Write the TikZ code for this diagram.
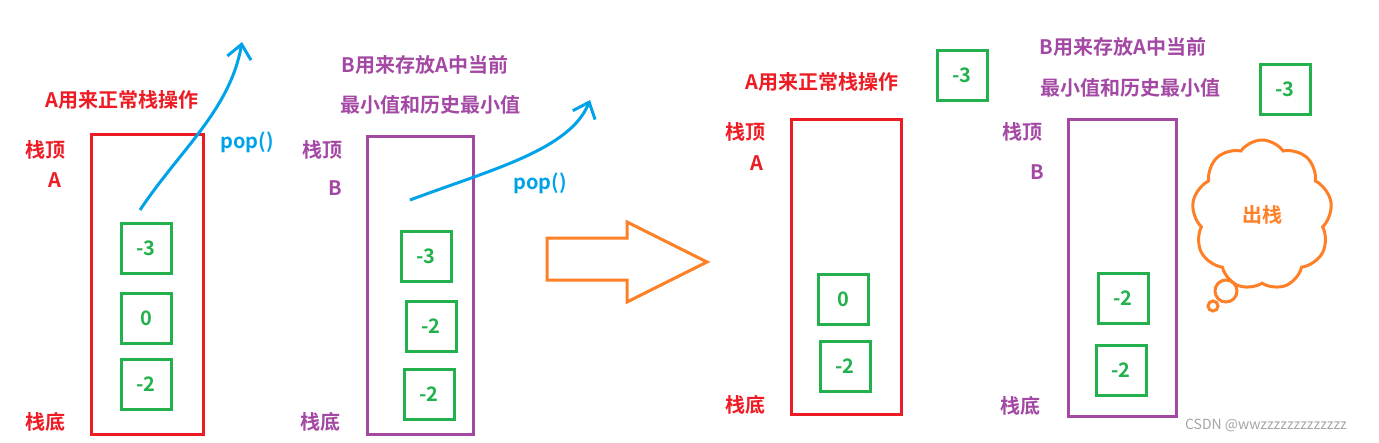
\documentclass[tikz,border=0pt]{standalone}
\usepackage{fontspec}
\setmainfont{Noto Sans CJK SC}[BoldFont={* Bold}]
\usetikzlibrary{arrows.meta,shapes.symbols}
\definecolor{sred}{RGB}{237,28,36}
\definecolor{spur}{RGB}{163,73,164}
\definecolor{sgrn}{RGB}{34,177,76}
\definecolor{sblu}{RGB}{0,162,232}
\definecolor{sorg}{RGB}{255,127,39}
\tikzset{
  stackbox/.style={draw,line width=3pt,inner sep=0,anchor=north west},
  cell/.style={draw=sgrn,line width=3pt,minimum width=50pt,minimum height=50pt,text=sgrn,font=\bfseries\fontsize{20}{22}\selectfont},
  lbl/.style={font=\bfseries\fontsize{20}{22}\selectfont},
  popline/.style={sblu,line width=3pt,-{Straight Barb[length=14pt,width=24pt]}}
}
\begin{document}
\begin{tikzpicture}[x=1pt,y=-1pt]
\useasboundingbox (0,0) rectangle (1379,442);
% left: stack A
\node[stackbox,draw=sred,minimum width=112pt,minimum height=300pt] (sa) at (90,133) {};
\node[lbl,text=sred] (sadesc) at (122,100) {A用来正常栈操作};
\node[lbl,text=sred] (satop) at (45,150) {栈顶};
\node[lbl,text=sred] (saname) at (55,180) {A};
\node[lbl,text=sred] (sabot) at (45,422) {栈底};
\node[cell] (a1) at (146,248) {-3};
\node[cell] (a2) at (146,318) {0};
\node[cell] (a3) at (146,384) {-2};
\coordinate (apop0) at (140,210);
\coordinate (apop1) at (242,42);
\draw[popline] (apop0) .. controls (180,150) and (230,110) .. (apop1);
\node[lbl,text=sblu] (apop) at (247,142) {pop()};
% left: stack B
\node[stackbox,draw=spur,minimum width=106pt,minimum height=298pt] (sb) at (366,135) {};
\node[lbl,text=spur] (sbdesc1) at (425,65) {B用来存放A中当前};
\node[lbl,text=spur] (sbdesc2) at (430,105) {最小值和历史最小值};
\node[lbl,text=spur] (sbtop) at (322,150) {栈顶};
\node[lbl,text=spur] (sbname) at (335,188) {B};
\node[lbl,text=spur] (sbbot) at (320,422) {栈底};
\node[cell] (b1) at (426,256) {-3};
\node[cell] (b2) at (431,326) {-2};
\node[cell] (b3) at (429,394) {-2};
\coordinate (bpop0) at (410,200);
\coordinate (bpop1) at (590,100);
\draw[popline] (bpop0) .. controls (490,170) and (570,150) .. (bpop1);
\node[lbl,text=sblu] (bpop) at (540,183) {pop()};
% big arrow
\draw[sorg,line width=3pt,line join=miter] (547,238) -- (627,238) -- (627,222) -- (707,262) -- (627,302) -- (627,280) -- (547,280) -- cycle;
% right: stack A
\node[stackbox,draw=sred,minimum width=110pt,minimum height=295pt] (ra) at (790,118) {};
\node[lbl,text=sred] (radesc) at (822,82) {A用来正常栈操作};
\node[lbl,text=sred] (ratop) at (745,132) {栈顶};
\node[lbl,text=sred] (raname) at (757,163) {A};
\node[lbl,text=sred] (rabot) at (745,405) {栈底};
\node[cell] (rax) at (962,75) {-3};
\node[cell] (ra1) at (843,299) {0};
\node[cell] (ra2) at (845,366) {-2};
% right: stack B
\node[stackbox,draw=spur,minimum width=108pt,minimum height=297pt] (rb) at (1067,118) {};
\node[lbl,text=spur] (rbdesc1) at (1123,47) {B用来存放A中当前};
\node[lbl,text=spur] (rbdesc2) at (1130,88) {最小值和历史最小值};
\node[lbl,text=spur] (rbtop) at (1022,132) {栈顶};
\node[lbl,text=spur] (rbname) at (1037,172) {B};
\node[lbl,text=spur] (rbbot) at (1020,406) {栈底};
\node[cell] (rbx) at (1285,89) {-3};
\node[cell] (rb1) at (1123,298) {-2};
\node[cell] (rb2) at (1121,370) {-2};
% thought cloud
\node[cloud,draw=sorg,line width=3pt,cloud puffs=9,cloud puff arc=110,minimum width=140pt,minimum height=150pt,lbl,text=sorg] (pout) at (1262,215) {出栈};
\node[circle,draw=sorg,line width=3pt,minimum size=22pt] (pb1) at (1226,291) {};
\node[circle,draw=sorg,line width=3pt,minimum size=10pt] (pb2) at (1213,306) {};
\node[text=gray!70,font=\fontsize{14}{16}\selectfont] (mark) at (1266,425) {CSDN @wwzzzzzzzzzzzzz};
\end{tikzpicture}
\end{document}
